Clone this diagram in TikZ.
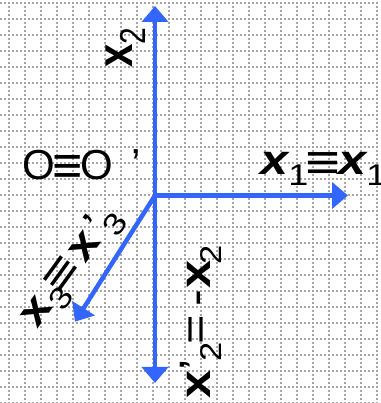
\documentclass[tikz,border=0pt]{standalone}
\usepackage{fontspec}
\setmainfont{Liberation Sans}
\usetikzlibrary{arrows.meta}
\definecolor{axisblue}{RGB}{51,102,255}
\definecolor{gridgray}{RGB}{166,166,166}
\newcommand\fs[1]{\fontsize{#1}{#1}\selectfont}
\newcommand\bx[1]{{\fs{#1}\bfseries\upshape x}}
\newcommand\bix{{\fs{42}\bfseries\itshape x}}
\newcommand\sbs[1]{\raisebox{-11pt}{\fs{30}\mdseries\upshape #1}}
\newcommand\eqv[2]{\raisebox{#2}{\fs{#1}\mdseries\upshape ≡}}
\tikzset{
  gridline/.style={gridgray, line width=1.8pt, dash pattern=on 2pt off 2pt},
  axis/.style={axisblue, line width=4.5pt, -{Triangle[length=16pt,width=26pt]}},
  lab/.style={transform shape, inner sep=0pt, anchor=base west, text=black},
}
\begin{document}
\begin{tikzpicture}[x=1pt,y=1pt]
\useasboundingbox (0,0) rectangle (380,403);
\clip (0,0) rectangle (380,403);
% grid
\foreach \i in {0,...,23}
  \draw[gridline] (8.7+16*\i,401.3) -- (8.7+16*\i,0);
\foreach \j in {0,...,25}
  \draw[gridline] (0.3,400.3-16*\j) -- (380,400.3-16*\j);
% axes
\coordinate (o) at (155,207.5);
\coordinate (up) at (155,397);
\coordinate (rt) at (348,207.5);
\coordinate (dn) at (155,20);
\coordinate (dg) at (75,81.3);
\draw[axis] (o) -- (up);
\draw[axis] (o) -- (rt);
\draw[axis] (o) -- (dn);
\draw[axis] (o) -- (dg);
% labels
\node[lab] (oo) at (22,223.5) {\fs{42}O\makebox[25.8pt][c]{\eqv{52}{-4pt}}O\kern18pt\raisebox{1pt}{’}};
\begin{scope}[shift={(260,228)}, xscale=1.2]
  \node[lab] (x1) at (0,0) {\bix\sbs{1}\makebox[25pt][c]{\eqv{50}{-5pt}}\bix\sbs{1}};
\end{scope}
\begin{scope}[shift={(132,335)}, xscale=1.2, rotate=90]
  \node[lab] (x2) at (0,0) {\bx{42}\sbs{2}};
\end{scope}
\begin{scope}[shift={(210,4)}, rotate=90, xscale=1.15]
  \node[lab] (x2p) at (0,0) {\fs{44}\bx{44}’\kern-2pt\sbs{2}\kern-2pt=\kern8pt-\kern1pt\bx{44}\kern-4pt\sbs{2}};
\end{scope}
\begin{scope}[shift={(37.7,73.7)}, rotate=54, xscale=1.2]
  \node[lab] (x3) at (0,0) {\fs{42}\bx{42}\sbs{3}\makebox[17pt][c]{\eqv{50}{-2pt}}\kern10pt\bx{42}\kern4pt’\kern-4pt\sbs{3}};
\end{scope}
\end{tikzpicture}
\end{document}
